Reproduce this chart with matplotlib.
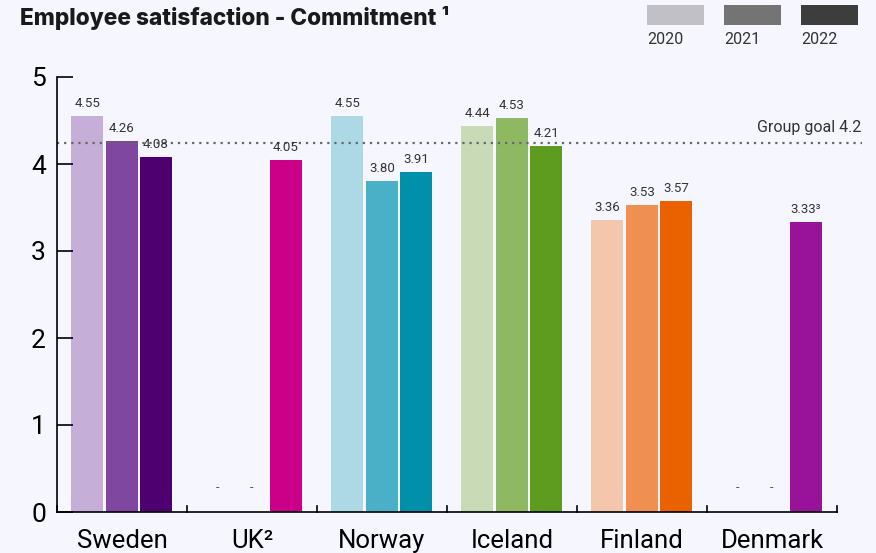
import numpy as np
import matplotlib.pyplot as plt
from matplotlib.patches import Rectangle

plt.rcParams['font.family'] = ['Roboto', 'DejaVu Sans']

countries = ["Sweden", "UK²", "Norway", "Iceland", "Finland", "Denmark"]
years = ["2020", "2021", "2022"]
v2020 = [4.55, None, 4.55, 4.44, 3.36, None]
v2021 = [4.26, None, 3.80, 4.53, 3.53, None]
v2022 = [4.08, 4.05, 3.91, 4.21, 3.57, 3.33]
labels2022 = ["4.08", "4.05", "3.91", "4.21", "3.57", "3.33³"]
goal = 4.24
goal_label = "Group goal 4.2"

colors = [
    ["#c5aed8", "#7f479f", "#4e0071"],
    ["#cc0088", "#cc0088", "#cc0088"],
    ["#acd9e5", "#4ab0c7", "#0090a9"],
    ["#c9dbb6", "#8fb862", "#5e9c1f"],
    ["#f4c7ad", "#ef8f51", "#ea6100"],
    ["#98139a", "#98139a", "#98139a"],
]
legend_colors = ["#c1c0c6", "#747474", "#3d3d3d"]

bg = "#f6f6fe"
fig = plt.figure(figsize=(8.76, 5.53), dpi=100, facecolor=bg)
ax = fig.add_axes([57/876, 41/553, 780/876, 435/553], facecolor=bg)

x = np.arange(len(countries))
offs = [-0.268, 0.0, 0.262]
w = 0.246
series = [v2020, v2021, v2022]
for k, vals in enumerate(series):
    for i, v in enumerate(vals):
        xi = x[i] + offs[k]
        if v is None:
            ax.text(xi, 0.28, "-", ha="center", va="center", fontsize=9, color="#555555")
            continue
        ax.bar(xi, v, width=w, color=colors[i][k], linewidth=0)
        lab = labels2022[i] if k == 2 else f"{v:.2f}"
        ax.text(xi, v + 0.07, lab, ha="center", va="bottom", fontsize=9.5, color="#333333")

ax.plot([-0.5, 5.69], [goal, goal], linestyle=(0, (1, 2.2)), color="#666666", lw=1.6, clip_on=False)
ax.text(5.69, goal + 0.09, goal_label, ha="right", va="bottom", fontsize=11.5, color="#333333")

ax.set_xlim(-0.5, 5.5)
ax.set_ylim(0, 5)
ax.set_yticks([0, 1, 2, 3, 4, 5])
ax.set_xticks(x)
ax.set_xticklabels(countries, fontsize=18.5)
ax.tick_params(axis="y", direction="in", length=11.5, width=1.2, labelsize=19, pad=8)
ax.tick_params(axis="x", length=0, pad=12)
for b in np.arange(-0.5, 6.0, 1.0):
    ax.plot([b, b], [0, 0.07], color="black", lw=1.2, clip_on=False)
for s in ["top", "right"]:
    ax.spines[s].set_visible(False)
ax.spines["left"].set_linewidth(1.2)
ax.spines["bottom"].set_linewidth(1.2)

fig.text(20/876, 1 - 18/553, "Employee satisfaction - Commitment ¹", fontsize=16.3,
         fontweight="heavy", family=["Inter", "DejaVu Sans"], va="center", ha="left", color="#1a1a1a")

for j, (yr, c) in enumerate(zip(years, legend_colors)):
    x0 = 647 + j * 77
    fig.patches.append(Rectangle((x0/876, 1 - 25/553), 57/876, 20/553,
                                 transform=fig.transFigure, color=c, linewidth=0))
    fig.text(x0/876, 1 - 40/553, yr, fontsize=11.5, va="center", ha="left", color="#333333")

fig.savefig("out.png", dpi=100, facecolor=bg)
